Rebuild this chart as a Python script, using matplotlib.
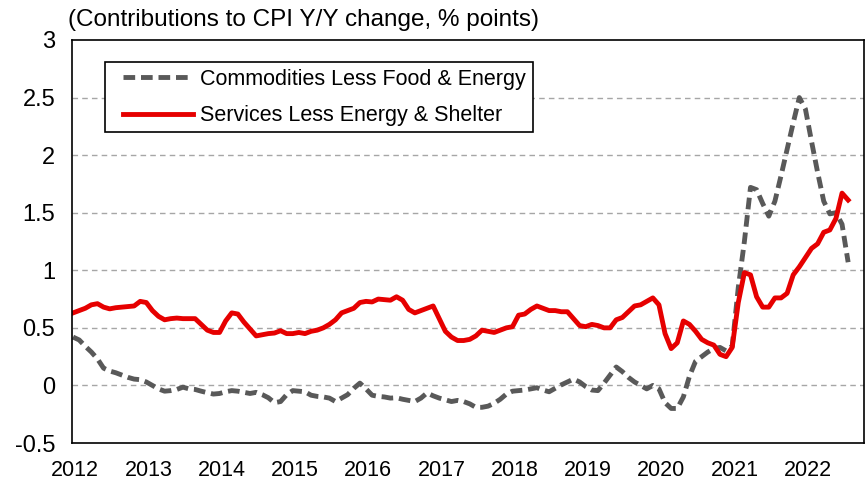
import numpy as np
import matplotlib
matplotlib.use("Agg")
import matplotlib.pyplot as plt
from matplotlib.patches import Rectangle

plt.rcParams['font.family'] = ['Liberation Sans', 'DejaVu Sans']

# monthly contributions to CPI y/y change (% points), Jan 2012 - Aug 2022
start_year = 2012
commodities = [
    0.42, 0.395, 0.34, 0.29, 0.23, 0.15, 0.125, 0.11, 0.09, 0.07, 0.055, 0.05,
    0.03, 0.0, -0.03, -0.05, -0.045, -0.035, -0.015, -0.03, -0.035, -0.05, -0.063, -0.075,
    -0.07, -0.055, -0.045, -0.05, -0.06, -0.07, -0.06, -0.08, -0.107, -0.15, -0.14, -0.08,
    -0.045, -0.05, -0.055, -0.085, -0.095, -0.1, -0.11, -0.14, -0.11, -0.08, -0.025, 0.02,
    -0.03, -0.085, -0.095, -0.1, -0.11, -0.107, -0.12, -0.13, -0.14, -0.11, -0.065, -0.09,
    -0.11, -0.125, -0.14, -0.13, -0.14, -0.16, -0.19, -0.19, -0.18, -0.155, -0.12, -0.075,
    -0.05, -0.045, -0.04, -0.03, -0.02, -0.04, -0.055, -0.025, 0.005, 0.03, 0.055, 0.03,
    -0.01, -0.04, -0.045, 0.02, 0.09, 0.16, 0.12, 0.07, 0.03, 0.0, -0.03, 0.0,
    -0.03, -0.15, -0.2, -0.2, -0.1, 0.08, 0.21, 0.25, 0.29, 0.32, 0.33, 0.30,
    0.34, 0.85, 1.25, 1.72, 1.70, 1.58, 1.47, 1.60, 1.82, 2.05, 2.28, 2.50,
    2.40, 2.12, 1.85, 1.60, 1.49, 1.50, 1.40, 1.07,
]
services = [
    0.63, 0.65, 0.67, 0.70, 0.71, 0.68, 0.665, 0.675, 0.68, 0.685, 0.69, 0.73,
    0.72, 0.65, 0.60, 0.57, 0.58, 0.585, 0.58, 0.58, 0.58, 0.53, 0.48, 0.46,
    0.46, 0.56, 0.63, 0.62, 0.55, 0.49, 0.43, 0.44, 0.45, 0.455, 0.475, 0.45,
    0.45, 0.46, 0.45, 0.47, 0.48, 0.50, 0.53, 0.57, 0.63, 0.65, 0.67, 0.72,
    0.73, 0.725, 0.75, 0.745, 0.74, 0.77, 0.74, 0.66, 0.63, 0.65, 0.67, 0.69,
    0.58, 0.47, 0.42, 0.39, 0.39, 0.40, 0.43, 0.48, 0.47, 0.46, 0.48, 0.50,
    0.51, 0.61, 0.62, 0.66, 0.69, 0.67, 0.65, 0.65, 0.64, 0.64, 0.58, 0.52,
    0.51, 0.53, 0.52, 0.50, 0.50, 0.57, 0.59, 0.64, 0.69, 0.70, 0.73, 0.76,
    0.70, 0.45, 0.32, 0.37, 0.56, 0.53, 0.47, 0.40, 0.37, 0.35, 0.27, 0.25,
    0.33, 0.72, 0.98, 0.96, 0.77, 0.68, 0.68, 0.76, 0.76, 0.80, 0.96, 1.03,
    1.11, 1.19, 1.23, 1.33, 1.35, 1.45, 1.67, 1.61,
]
years = list(range(2012, 2023))
yticks = [-0.5, 0, 0.5, 1, 1.5, 2, 2.5, 3]
ytick_labels = ['-0.5', '0', '0.5', '1', '1.5', '2', '2.5', '3']

x = start_year + np.arange(len(services)) / 12

fig = plt.figure(figsize=(8.66, 4.84), dpi=100)
ax = fig.add_axes([0.0831, 0.0847, 0.9146, 0.8327])

ax.plot(x, commodities, color='#595959', lw=3.5, dashes=(2.4, 1.2),
        dash_capstyle='butt', label='Commodities Less Food & Energy')
ax.plot(x, services, color='#E60000', lw=3.5, solid_joinstyle='round',
        label='Services Less Energy & Shelter')

ax.set_ylim(-0.5, 3)
ax.set_xlim(2011.985, 2022.8)
ax.set_yticks(yticks)
ax.set_yticklabels(ytick_labels)
ax.set_xticks([y + 0.03 for y in years])
ax.set_xticklabels([str(y) for y in years])
ax.tick_params(axis='both', length=0)
ax.tick_params(axis='y', pad=12, labelsize=17)
ax.tick_params(axis='x', pad=12, labelsize=15.5)

for v in [0, 0.5, 1, 1.5, 2, 2.5]:
    ax.axhline(v, color='#A6A6A6', lw=1, ls=(0, (4, 3)), zorder=0)

for s in ax.spines.values():
    s.set_color('black')
    s.set_linewidth(1.2)

# legend box drawn separately so the padding matches the original
box = Rectangle((105 / 866, 1 - 132 / 484), 428 / 866, 70 / 484, transform=fig.transFigure,
                facecolor='white', edgecolor='black', lw=1.2, zorder=5)
ax.add_patch(box)
box.set_clip_on(False)

leg = ax.legend(loc='upper left', bbox_to_anchor=(123 / 866, 1 - 69 / 484),
                bbox_transform=fig.transFigure, borderaxespad=0, borderpad=0,
                fontsize=15.5, frameon=False, handlelength=3.25, handletextpad=0.33,
                labelspacing=0.72)
leg.set_zorder(6)

fig.text(0.0785, 0.958, '(Contributions to CPI Y/Y change, % points)', fontsize=17.5,
         ha='left', va='center')

fig.savefig('out.png', dpi=100)
